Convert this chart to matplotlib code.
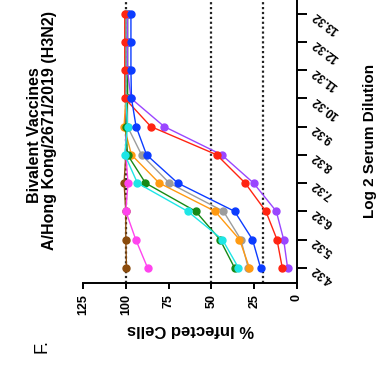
import numpy as np
import matplotlib
matplotlib.use('Agg')
import matplotlib.pyplot as plt

# Log2 serum dilution (tick positions / labels)
dilution = [4.32, 5.32, 6.32, 7.32, 8.32, 9.32, 10.32, 11.32, 12.32, 13.32]
dil_labels = ['4.32', '5.32', '6.32', '7.32', '8.32', '9.32', '10.32', '11.32', '12.32', '13.32']

# % infected cells per sample
brown   = [99.6, 100, 100, 101, 100, 100, 100, 100, 100, 100]
magenta = [87.3, 94.2, 100, 98.7, 100, 100, 100, 100, 100, 100]
gray    = [28.5, 32.8, 43.0, 74.6, 90.8, 99, 99, 99, 99, 99]
orange  = [27.8, 33.6, 47.9, 80.5, 96.7, 101, 100, 100, 100, 100]
green   = [36.5, 45.0, 59.2, 88.5, 99, 100, 99, 99, 99, 99]
cyan    = [34.2, 43.6, 63.9, 93.2, 100.6, 99, 100, 100, 100, 100]
purple  = [5.5, 7.8, 12.1, 25.4, 44.0, 77.6, 97, 99, 99, 99]
red     = [8.6, 11.7, 18.2, 30.3, 46.9, 85.4, 100.6, 100.6, 100.6, 100.6]
blue    = [21.3, 26.0, 36.5, 69.7, 87.9, 94, 96.7, 97, 97, 97]

pct_ticks = [0, 25, 50, 75, 100, 125]
ref_lines = [100, 50, 20]

series = [brown, magenta, gray, orange, green, cyan, purple, red, blue]
colors = ['#8b4c0e', '#ff44ee', '#9c9c9c', '#ff9a12', '#168a16', '#1ee6e6',
          '#9a46ff', '#ff2412', '#0c3cff']

plt.rcParams['font.family'] = ['Liberation Sans', 'DejaVu Sans']
plt.rcParams['font.weight'] = 'bold'

W, H = 385, 370
fig = plt.figure(figsize=(W / 100, H / 100), dpi=100)
# chart is drawn turned a quarter turn: % infected runs along x (reversed), dilution along y
ax = fig.add_axes([83 / W, 1 - 283.3 / H, (297 - 83) / W, 283.3 / H])

for v in ref_lines:
    ax.axvline(v, color='#222222', lw=1.6, ls=(0, (1, 1.2)), zorder=1)

for y, c in zip(series, colors):
    ax.plot(y, dilution, color=c, lw=1.0, marker='o', ms=5, mec=c, mfc=c, zorder=3)

ax.set_xlim(125, 0)
ax.set_ylim(3.77, 13.8)

ax.spines['top'].set_visible(False)
ax.spines['left'].set_visible(False)
ax.spines['bottom'].set_linewidth(1.4)
ax.spines['right'].set_linewidth(1.4)

ax.set_xticks(pct_ticks)
ax.set_xticklabels([str(t) for t in pct_ticks], rotation=90, fontsize=9)
ax.tick_params(axis='x', direction='out', length=4.5, width=1.4, pad=3.5)

ax.yaxis.tick_right()
ax.set_yticks(dilution)
ax.set_yticklabels(dil_labels, fontsize=8.5)
ax.tick_params(axis='y', direction='out', length=7, width=1.4, pad=5)
plt.setp(ax.get_yticklabels(), rotation=143, rotation_mode='anchor', ha='right', va='center')

# axis titles and heading
fig.text(191 / W, 1 - 325 / H, '% Infected Cells', rotation=180, rotation_mode='anchor',
         ha='center', va='baseline', fontsize=12, fontweight='bold')
fig.text(374 / W, 1 - 141 / H, 'Log 2 Serum Dilution', rotation=90, rotation_mode='anchor',
         ha='center', va='baseline', fontsize=11, fontweight='bold')
fig.text(39 / W, 1 - 135 / H, 'Bivalent Vaccines', rotation=90, rotation_mode='anchor',
         ha='center', va='baseline', fontsize=11.5, fontweight='bold')
fig.text(54 / W, 1 - 131 / H, 'A/Hong Kong/2671/2019 (H3N2)', rotation=90, rotation_mode='anchor',
         ha='center', va='baseline', fontsize=11.5, fontweight='bold')
fig.text(47 / W, 1 - 346.5 / H, 'F.', rotation=90, rotation_mode='anchor',
         ha='center', va='baseline', fontsize=13, fontweight='normal')

fig.savefig('out.png', dpi=100)
